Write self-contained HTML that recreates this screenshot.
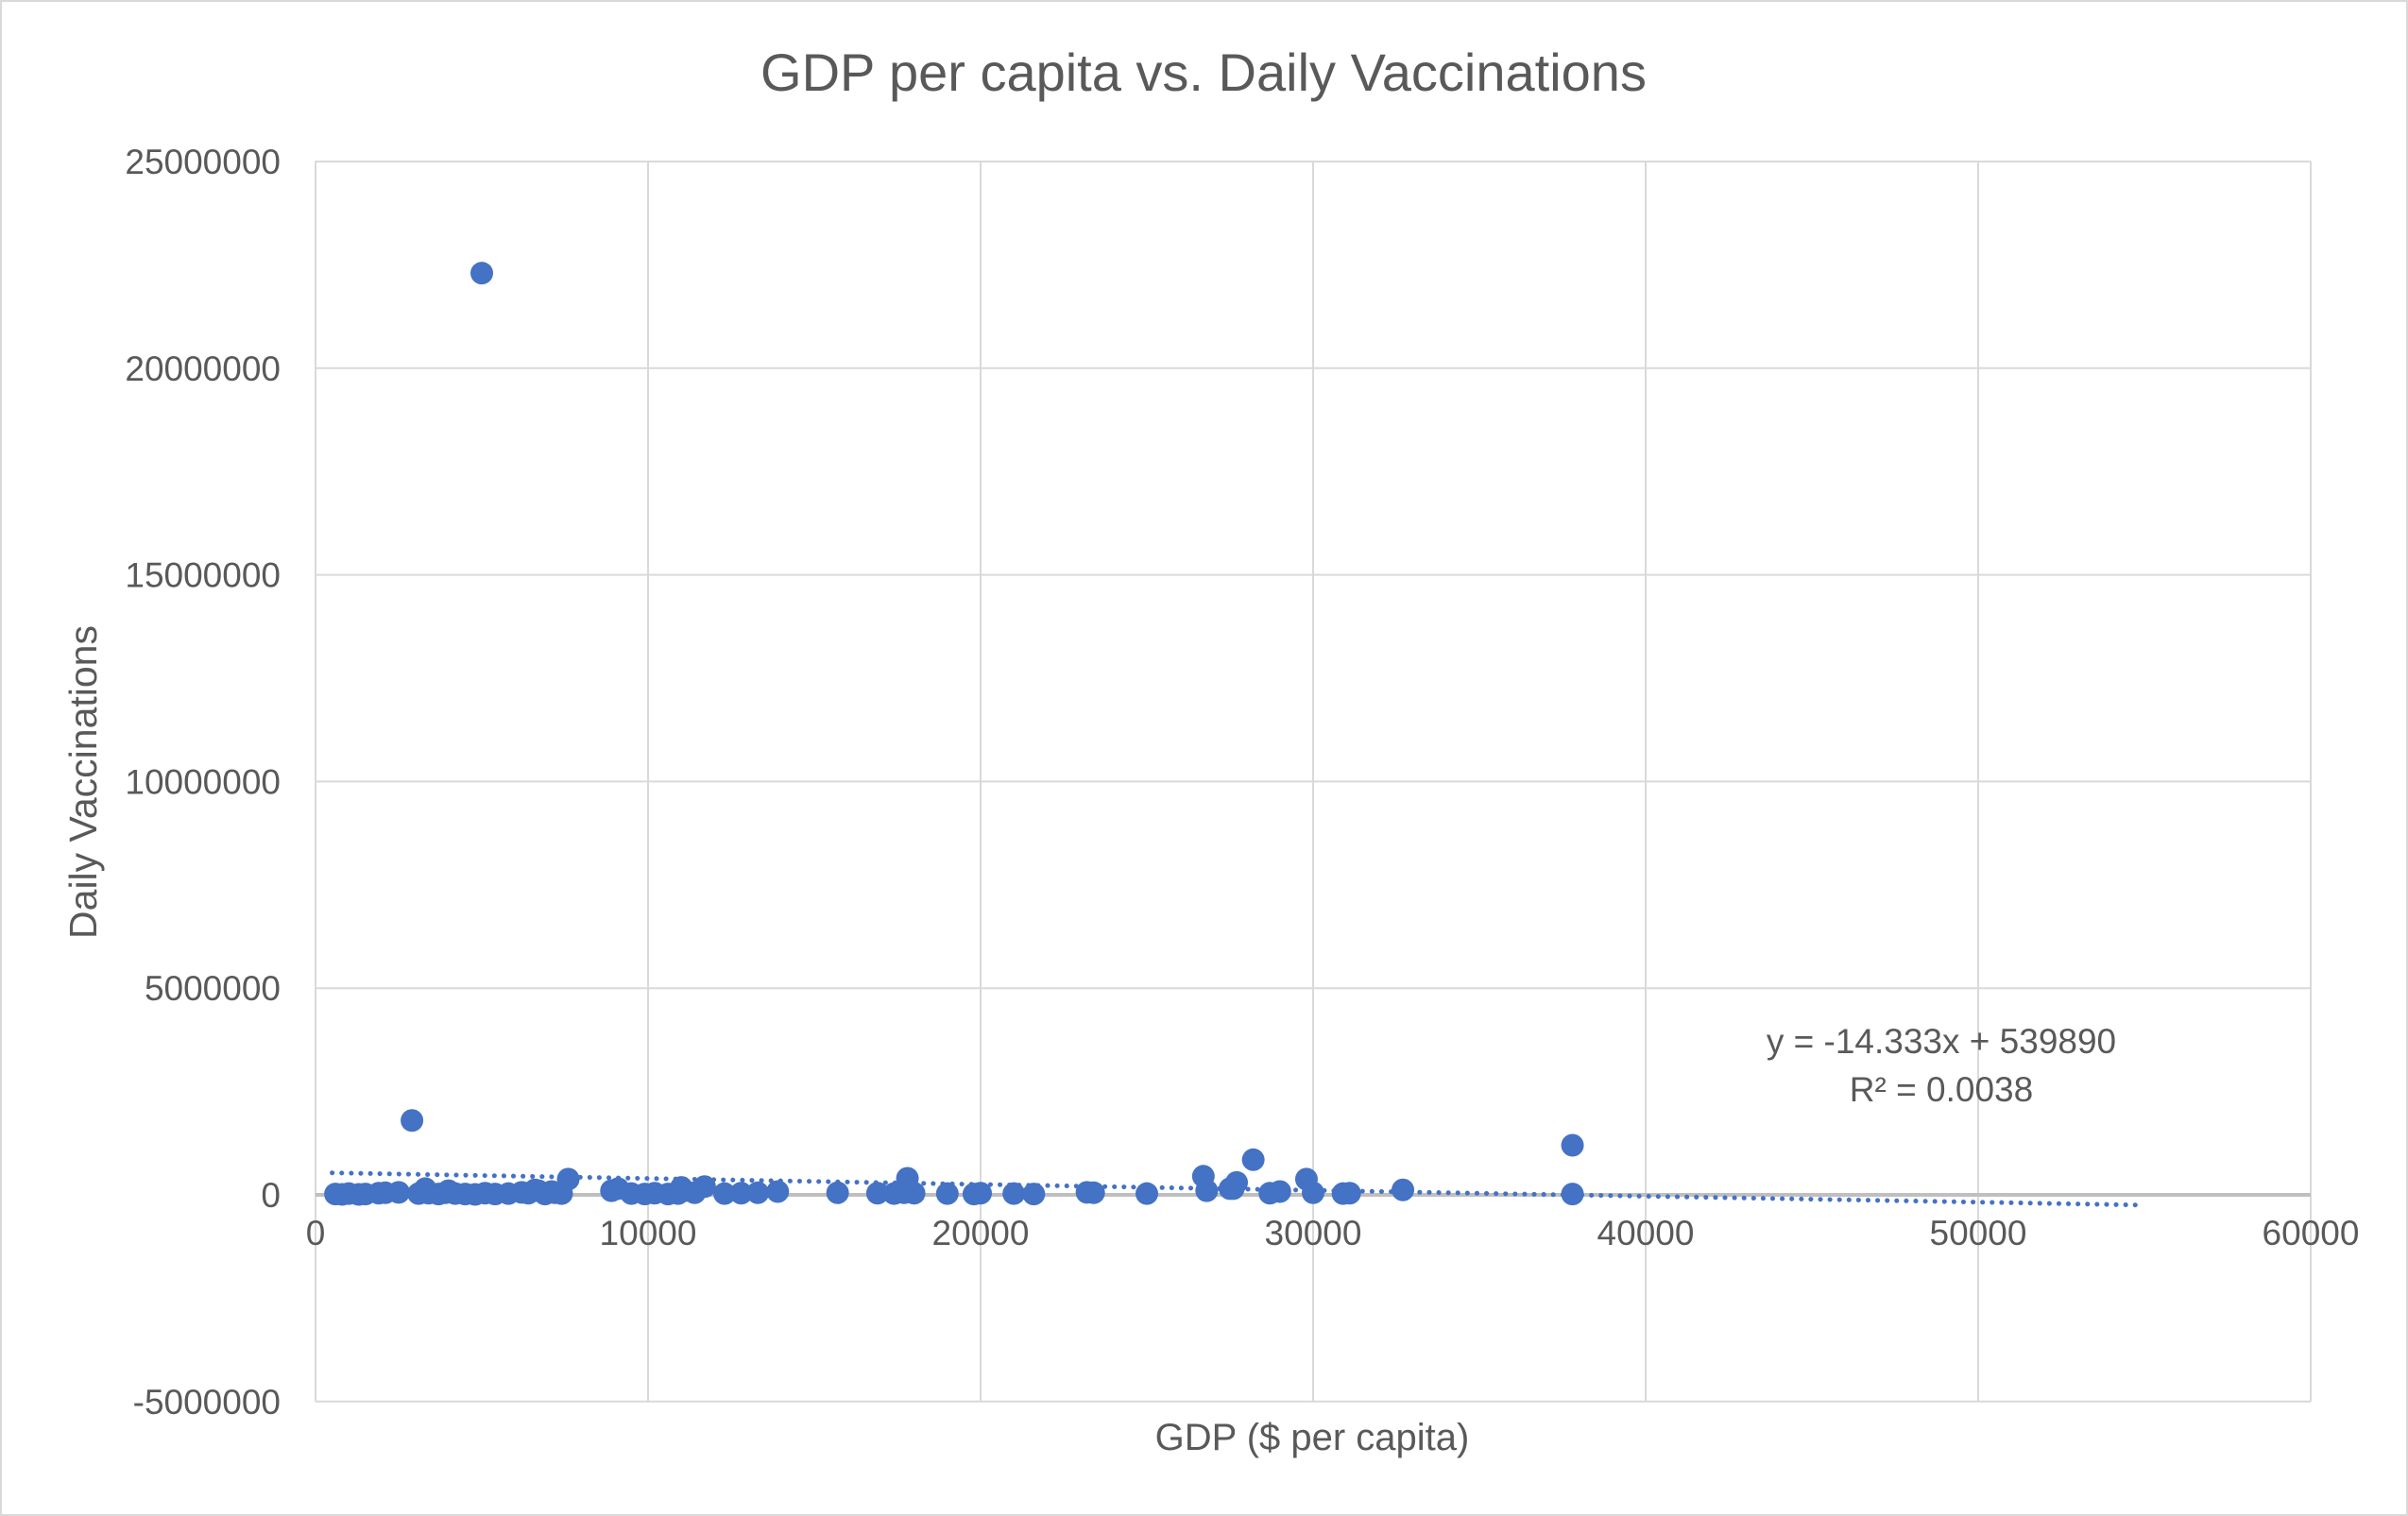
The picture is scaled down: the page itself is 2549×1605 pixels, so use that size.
<!DOCTYPE html>
<html><head><meta charset="utf-8"><style>
body{margin:0;background:#fff}
svg{display:block;font-family:"Liberation Sans",sans-serif}
</style></head><body>
<svg id="c" width="2549" height="1605">
<rect x="1" y="1" width="2547" height="1603" fill="#fff" stroke="#d9d9d9" stroke-width="2"/>
<text x="1274" y="96" text-anchor="middle" font-size="56" fill="#595959">GDP per capita vs. Daily Vaccinations</text>
<g id="grid"></g><g id="trend"></g><g id="pts"></g><g id="ticks"></g>
<text x="1389" y="1535" text-anchor="middle" font-size="40" fill="#595959">GDP ($ per capita)</text>
<text transform="translate(102,828) rotate(-90)" text-anchor="middle" font-size="41" fill="#595959">Daily Vaccinations</text>
<text x="2055" y="1115" text-anchor="middle" font-size="37" fill="#595959">y = -14.333x + 539890</text>
<text x="2055" y="1166" text-anchor="middle" font-size="37" fill="#595959">R² = 0.0038</text>
</svg>
<script>
const xTicks=[0,10000,20000,30000,40000,50000,60000];
const yTicks=[-5000000,0,5000000,10000000,15000000,20000000,25000000];
const gdp=[5000,2900,37800,28200,26700,17800,29800,7600,27700,27500,600,800,1000,1300,1500,1900,2100,2500,3100,3400,3700,3900,4200,4500,4800,5100,5400,5800,6200,6400,6700,6900,7200,7400,8900,9100,9500,9900,10200,10600,10900,11100,11400,11700,12300,12800,13300,13900,15700,16900,17400,17700,18000,19000,19800,20000,21000,21600,23200,23400,25000,26800,27600,28700,29000,30000,30900,31100,32700,37800,3300,4000,6600,7100,11000];
const vacc=[22300000,1800000,1200000,850000,450000,400000,380000,380000,300000,150000,20000,10000,30000,10000,20000,40000,50000,60000,30000,40000,20000,50000,30000,20000,10000,40000,20000,30000,60000,40000,100000,20000,50000,30000,100000,150000,30000,20000,40000,20000,30000,100000,50000,200000,30000,40000,50000,80000,50000,40000,30000,50000,40000,30000,20000,40000,30000,20000,60000,50000,30000,100000,150000,40000,80000,50000,30000,40000,120000,20000,150000,100000,120000,80000,180000];
const trendSlope=-14.333, trendIntercept=539890, trendX0=500, trendX1=55000;
const X0=334,X1=2446,Y0=1265,pxPerUnitY=218.8/5000000;
const sx=v=>X0+(X1-X0)*v/60000;
const sy=v=>Y0-v*pxPerUnitY;
const NS="http://www.w3.org/2000/svg";
function mk(tag,attrs,parent){const e=document.createElementNS(NS,tag);for(const k in attrs)e.setAttribute(k,attrs[k]);document.getElementById(parent).appendChild(e);return e;}
xTicks.forEach(t=>{
 const l=mk('line',{x1:sx(t),x2:sx(t),y1:sy(25000000),y2:sy(-5000000),stroke:'#d9d9d9','stroke-width':2},'grid');
 
 
 const tx=mk('text',{x:sx(t),y:sy(0)+53,'text-anchor':'middle','font-size':37,fill:'#595959'},'ticks');
 tx.textContent=t;
 
 
});
yTicks.forEach(t=>{
 const l=mk('line',{x1:X0,x2:X1,y1:sy(t),y2:sy(t),stroke:t===0?'#bfbfbf':'#d9d9d9','stroke-width':t===0?4:2},'grid');
 
 
 const tx=mk('text',{x:X0-37,y:sy(t)+13,'text-anchor':'end','font-size':37,fill:'#595959'},'ticks');
 tx.textContent=t;
 
 
});
const tl=mk('line',{x1:sx(trendX0),y1:sy(trendSlope*trendX0+trendIntercept),x2:sx(trendX1),y2:sy(trendSlope*trendX1+trendIntercept),stroke:'#4472c4','stroke-width':5,'stroke-dasharray':'0.1 10','stroke-linecap':'round'},'trend');


gdp.forEach((g,i)=>{
 const c=mk('circle',{cx:sx(g),cy:sy(vacc[i]),r:12,fill:'#4472c4'},'pts');
 
 
});
</script>
</body></html>
